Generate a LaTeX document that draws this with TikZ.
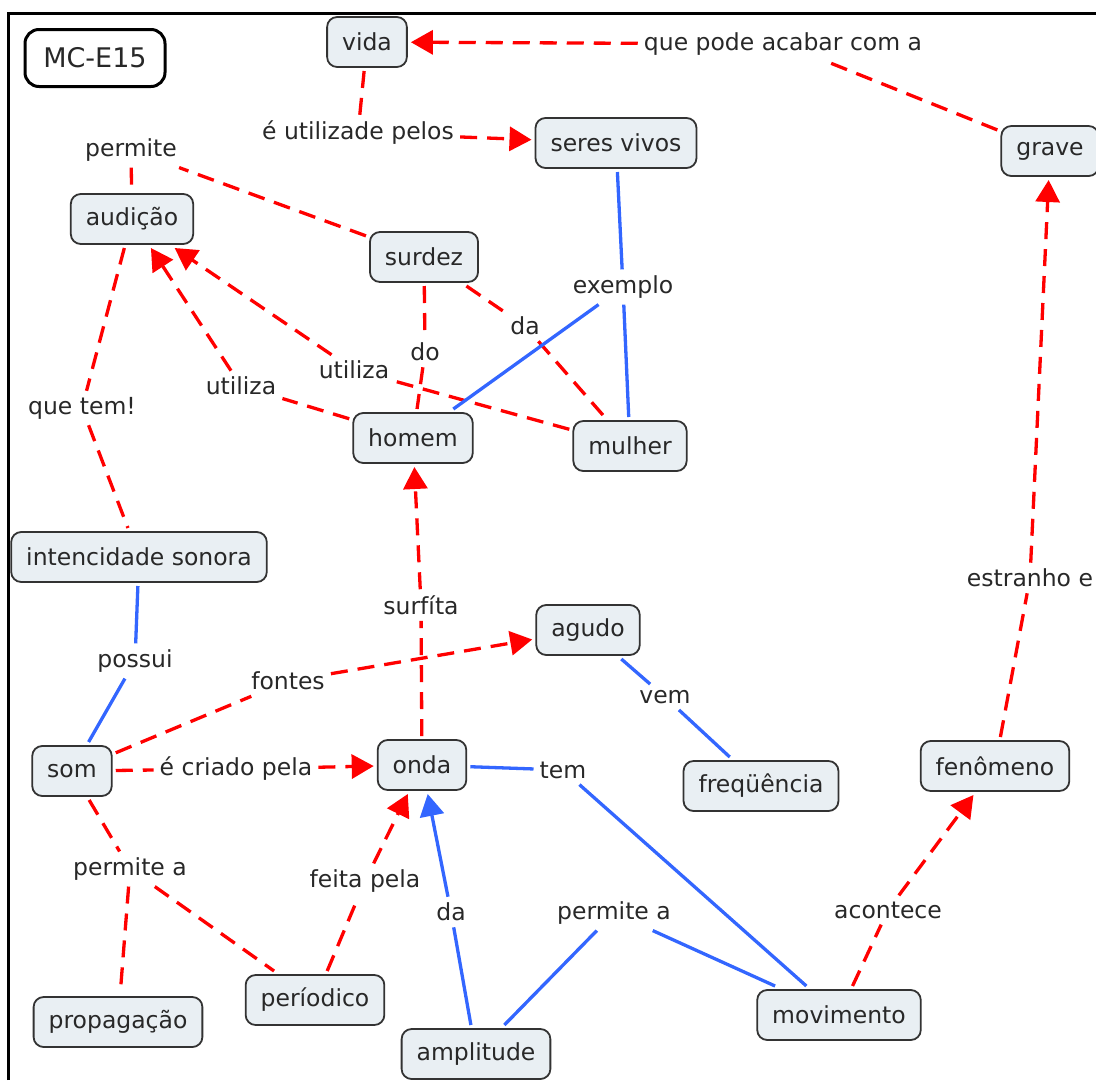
\documentclass[tikz,border=0pt]{standalone}
\usepackage{fontspec}
\setmainfont{DejaVu Sans}
\usetikzlibrary{arrows.meta}

\definecolor{conceptfill}{RGB}{233,239,243}
\definecolor{linkred}{RGB}{255,0,0}
\definecolor{linkblue}{RGB}{51,102,255}
\definecolor{textgray}{RGB}{40,40,40}

\tikzset{
    concept/.style={draw=black!80, fill=conceptfill, rounded corners=10pt, line width=1.8pt,
        minimum height=50pt, inner xsep=15pt, outer sep=4pt, text=textgray,
        font=\fontsize{23.5}{27}\selectfont},
    phrase/.style={inner sep=6pt, text=textgray, font=\fontsize{23.5}{27}\selectfont},
    redlink/.style={linkred, line width=3.3pt, dash pattern=on 17pt off 10pt},
    bluelink/.style={linkblue, line width=3.3pt},
    arrowhead/.style={-{Triangle[length=22pt,width=24pt]}}
}

\begin{document}
\begin{tikzpicture}[x=1pt, y=-1pt]
        \useasboundingbox (0,0) rectangle (1096,1080);

        % Frame
        \draw[line width=3pt] (8,1080) -- (8,13) -- (1096,13);

        % Title
        \node[draw=black, fill=white, line width=3pt, rounded corners=14pt, minimum width=140pt,
            minimum height=57pt, text=textgray, font=\fontsize{27}{31}\selectfont] (title) at (95,58) {MC-E15};

        % Concepts
        \node[concept] (vida) at (367,42) {vida};
        \node[concept] (seres) at (616,143) {seres vivos};
        \node[concept] (grave) at (1050,151) {grave};
        \node[concept] (audicao) at (132,219) {audição};
        \node[concept] (surdez) at (424,257) {surdez};
        \node[concept] (homem) at (413,438) {homem};
        \node[concept] (mulher) at (630,446) {mulher};
        \node[concept] (intencidade) at (139,557) {intencidade sonora};
        \node[concept] (agudo) at (588,630) {agudo};
        \node[concept] (som) at (72,771) {som};
        \node[concept] (onda) at (422,765) {onda};
        \node[concept] (frequencia) at (761,786) {freqüência};
        \node[concept] (fenomeno) at (995,766) {fenômeno};
        \node[concept] (propagacao) at (118,1022) {propagação};
        \node[concept] (periodico) at (315,1000) {períodico};
        \node[concept] (amplitude) at (476,1054) {amplitude};
        \node[concept] (movimento) at (839,1015) {movimento};

        % Linking phrases
        \node[phrase] (l-acabar) at (783,44) {que pode acabar com a};
        \node[phrase] (l-utilizade) at (358,133) {é utilizade pelos};
        \node[phrase] (l-permite) at (131,150) {permite};
        \node[phrase] (l-exemplo) at (623,287) {exemplo};
        \node[phrase] (l-da-surdez) at (525,326) {da};
        \node[phrase] (l-do) at (425,352) {do};
        \node[phrase] (l-utiliza-h) at (241,386) {utiliza};
        \node[phrase] (l-utiliza-m) at (354,370) {utiliza};
        \node[phrase] (l-temexcl) at (82,408) {que tem!};
        \node[phrase] (l-surfita) at (421,605) {surfíta};
        \node[phrase] (l-estranho) at (1030,578) {estranho e};
        \node[phrase] (l-possui) at (135,661) {possui};
        \node[phrase] (l-fontes) at (288,681) {fontes};
        \node[phrase] (l-vem) at (665,697) {vem};
        \node[phrase] (l-criado) at (236,769) {é criado pela};
        \node[phrase] (l-tem) at (563,770) {tem};
        \node[phrase] (l-permite-som) at (130,869) {permite a};
        \node[phrase] (l-feita) at (365,881) {feita pela};
        \node[phrase] (l-da-amp) at (451,912) {da};
        \node[phrase] (l-permite-amp) at (614,913) {permite a};
        \node[phrase] (l-acontece) at (888,910) {acontece};

        % Red links
        \draw[redlink] (grave) -- (l-acabar);
        \draw[redlink, arrowhead] (l-acabar) -- (vida);
        \draw[redlink] (vida) -- (l-utilizade);
        \draw[redlink, arrowhead] (l-utilizade) -- (seres);
        \draw[redlink] (surdez) -- (l-permite);
        \draw[redlink] (l-permite) -- (audicao);
        \draw[redlink] (surdez) -- (l-do);
        \draw[redlink] (l-do) -- (homem);
        \draw[redlink] (surdez) -- (l-da-surdez);
        \draw[redlink] (l-da-surdez) -- (mulher);
        \draw[redlink] (homem) -- (l-utiliza-h);
        \draw[redlink, arrowhead] (l-utiliza-h) -- (audicao);
        \draw[redlink] (mulher) -- (l-utiliza-m);
        \draw[redlink, arrowhead] (l-utiliza-m) -- (audicao);
        \draw[redlink] (audicao) -- (l-temexcl);
        \draw[redlink] (l-temexcl) -- (intencidade);
        \draw[redlink] (onda) -- (l-surfita);
        \draw[redlink, arrowhead] (l-surfita) -- (homem);
        \draw[redlink] (fenomeno) -- (l-estranho);
        \draw[redlink, arrowhead] (l-estranho) -- (grave);
        \draw[redlink] (som) -- (l-fontes);
        \draw[redlink, arrowhead] (l-fontes) -- (agudo);
        \draw[redlink] (som) -- (l-criado);
        \draw[redlink, arrowhead] (l-criado) -- (onda);
        \draw[redlink] (som) -- (l-permite-som);
        \draw[redlink] (l-permite-som) -- (propagacao);
        \draw[redlink] (l-permite-som) -- (periodico);
        \draw[redlink] (periodico) -- (l-feita);
        \draw[redlink, arrowhead] (l-feita) -- (onda);
        \draw[redlink] (movimento) -- (l-acontece);
        \draw[redlink, arrowhead] (l-acontece) -- (fenomeno);

        % Blue links
        \draw[bluelink] (seres) -- (l-exemplo);
        \draw[bluelink] (l-exemplo) -- (homem);
        \draw[bluelink] (l-exemplo) -- (mulher);
        \draw[bluelink] (intencidade) -- (l-possui);
        \draw[bluelink] (l-possui) -- (som);
        \draw[bluelink] (agudo) -- (l-vem);
        \draw[bluelink] (l-vem) -- (frequencia);
        \draw[bluelink] (onda) -- (l-tem);
        \draw[bluelink] (l-tem) -- (movimento);
        \draw[bluelink] (amplitude) -- (l-da-amp);
        \draw[bluelink, arrowhead] (l-da-amp) -- (onda);
        \draw[bluelink] (amplitude) -- (l-permite-amp);
        \draw[bluelink] (l-permite-amp) -- (movimento);
    \end{tikzpicture}
\end{document}
